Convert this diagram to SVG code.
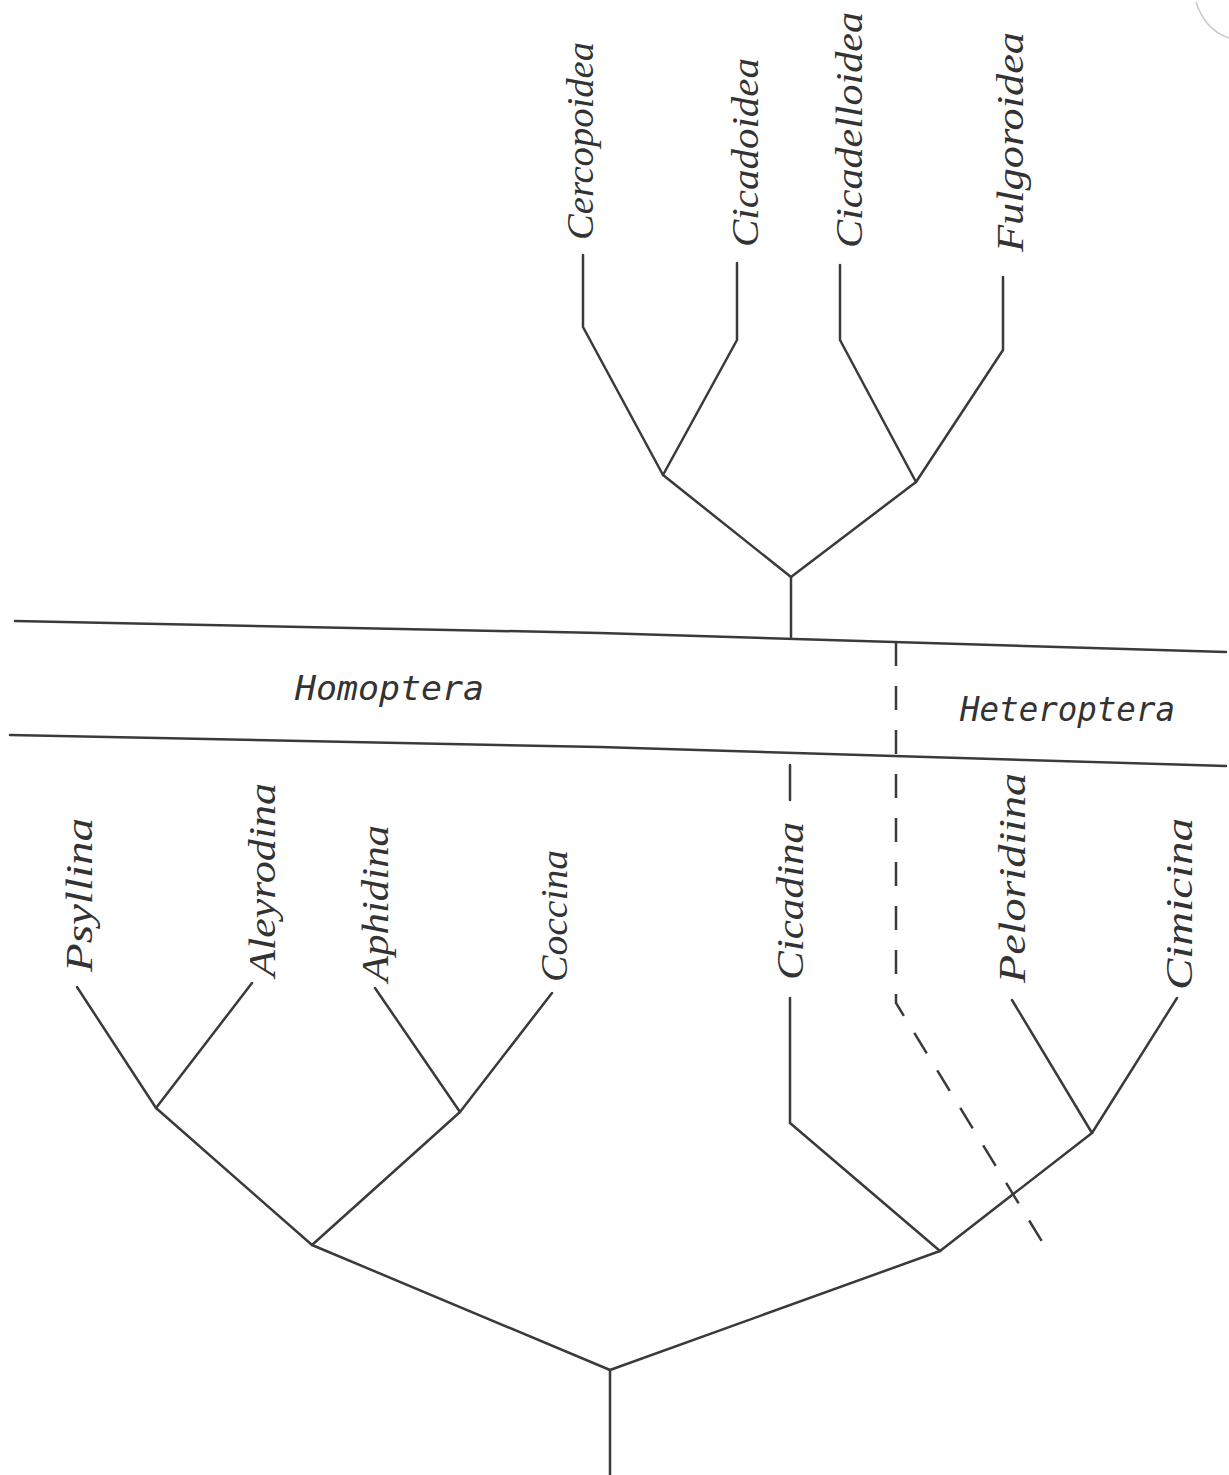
<svg xmlns="http://www.w3.org/2000/svg" width="1229" height="1475" viewBox="0 0 1229 1475">
<style>
.ln{fill:none;stroke:#3a3a3a;stroke-width:2.5;stroke-linecap:round;stroke-linejoin:round}
.ds{fill:none;stroke:#3a3a3a;stroke-width:2.5;stroke-dasharray:24 20}
.lab{font-family:"Liberation Serif","DejaVu Serif",serif;font-style:italic;font-size:38px;fill:#333}
.band{font-family:"DejaVu Sans Mono","Liberation Mono",monospace;font-style:oblique;font-size:33px;fill:#333}
</style>
<rect width="1229" height="1475" fill="#fff"/>
<path d="M1196,2 Q1205,30 1229,38" fill="none" stroke="#c8c8c8" stroke-width="1.5"/>
<g id="connectors">
<path class="ln" d="M583,255 L583,327 L663,475 L737,340 L737,263"/>
<path class="ln" d="M840,265 L840,340 L916,482 L1003,350 L1003,277"/>
<path class="ln" d="M663,475 L791,577 L916,482"/>
<path class="ln" d="M791,577 L791,637"/>
<path class="ln" d="M77,987 L156,1108 L252,983"/>
<path class="ln" d="M375,988 L460,1112 L552,993"/>
<path class="ln" d="M156,1108 L312,1245 L460,1112"/>
<path class="ln" d="M790,765 L790,800"/>
<path class="ln" d="M790,998 L790,1123 L940,1251"/>
<path class="ln" d="M1012,1000 L1092,1133 L1177,998"/>
<path class="ln" d="M1092,1133 L940,1251"/>
<path class="ln" d="M312,1245 L610,1370 L940,1251"/>
<path class="ln" d="M610,1370 L610,1475"/>
<path class="ds" d="M896,642 L896,1003 L1049,1253"/>
</g>
<g id="bands">
<path class="ln" d="M15,621 L600,633 L1226,652" stroke-width="3"/>
<path class="ln" d="M10,735 L600,747 L1226,766" stroke-width="3"/>
</g>
<g id="homoptera"><text class="band" x="295" y="700" textLength="189" lengthAdjust="spacingAndGlyphs">Homoptera</text></g>
<g id="heteroptera"><text class="band" x="960" y="721" textLength="215" lengthAdjust="spacingAndGlyphs">Heteroptera</text></g>
<g id="cercopoidea"><text class="lab" transform="translate(593,240) rotate(-90)" textLength="198" lengthAdjust="spacingAndGlyphs">Cercopoidea</text></g>
<g id="cicadoidea"><text class="lab" transform="translate(758,247) rotate(-90)" textLength="189" lengthAdjust="spacingAndGlyphs">Cicadoidea</text></g>
<g id="cicadelloidea"><text class="lab" transform="translate(862,248) rotate(-90)" textLength="236" lengthAdjust="spacingAndGlyphs">Cicadelloidea</text></g>
<g id="fulgoroidea"><text class="lab" transform="translate(1023,252) rotate(-90)" textLength="220" lengthAdjust="spacingAndGlyphs">Fulgoroidea</text></g>
<g id="psyllina"><text class="lab" transform="translate(92,972) rotate(-90)" textLength="154" lengthAdjust="spacingAndGlyphs">Psyllina</text></g>
<g id="aleyrodina"><text class="lab" transform="translate(275,977) rotate(-90)" textLength="194" lengthAdjust="spacingAndGlyphs">Aleyrodina</text></g>
<g id="aphidina"><text class="lab" transform="translate(388,982) rotate(-90)" textLength="157" lengthAdjust="spacingAndGlyphs">Aphidina</text></g>
<g id="coccina"><text class="lab" transform="translate(567,982) rotate(-90)" textLength="132" lengthAdjust="spacingAndGlyphs">Coccina</text></g>
<g id="cicadina"><text class="lab" transform="translate(803,980) rotate(-90)" textLength="158" lengthAdjust="spacingAndGlyphs">Cicadina</text></g>
<g id="peloridiina"><text class="lab" transform="translate(1025,983) rotate(-90)" textLength="210" lengthAdjust="spacingAndGlyphs">Peloridiina</text></g>
<g id="cimicina"><text class="lab" transform="translate(1192,990) rotate(-90)" textLength="172" lengthAdjust="spacingAndGlyphs">Cimicina</text></g>
</svg>
